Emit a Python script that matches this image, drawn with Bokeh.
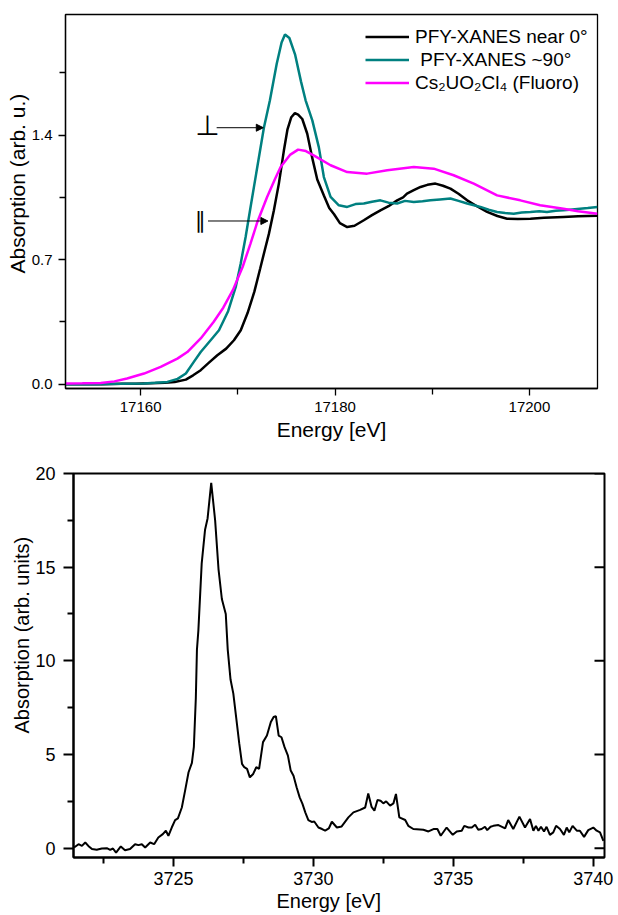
from math import pi
from bokeh.plotting import figure
from bokeh.layouts import column
from bokeh.models import (FixedTicker, Legend, LegendItem, Arrow, Title,
                          NormalHead, Range1d, PrintfTickFormatter)
from bokeh.embed import file_html
from bokeh.resources import INLINE
from bokeh.core.properties import value

FONT = "Liberation Sans"
SYM_FONT = "DejaVu Sans"

# ---------------- top panel data ----------------
e_near0 = [17152.3, 17154.0, 17156.0, 17158.0, 17159.5, 17161.0, 17162.5, 17163.5,
           17164.65, 17165.4, 17166.18, 17167.0, 17167.89, 17168.8, 17169.6, 17170.3,
           17171.0, 17171.7, 17172.3, 17172.8, 17173.2, 17173.71, 17174.22, 17174.74,
           17175.1, 17175.5, 17175.87, 17176.2, 17176.63, 17177.14, 17177.66, 17178.17,
           17178.85, 17179.4, 17179.9, 17180.5, 17181.25, 17182.0, 17182.96, 17183.8,
           17184.67, 17185.5, 17186.39, 17187.0, 17187.4, 17188.1, 17188.8, 17189.5,
           17190.33, 17191.1, 17191.87, 17192.7, 17193.59, 17194.6, 17195.64, 17196.7,
           17197.7, 17198.8, 17200.1, 17201.5, 17203.5, 17205.0, 17207.0]
a_near0 = [0.0, 0.0, 0.0, 0.002, 0.003, 0.005, 0.008, 0.012,
           0.026, 0.05, 0.079, 0.12, 0.163, 0.20, 0.247, 0.303,
           0.40, 0.52, 0.65, 0.76, 0.846, 0.977, 1.127, 1.314,
           1.43, 1.50, 1.523, 1.515, 1.49, 1.407, 1.27, 1.15,
           1.06, 0.99, 0.955, 0.905, 0.883, 0.89, 0.921, 0.95,
           0.977, 1.0, 1.033, 1.05, 1.071, 1.09, 1.108, 1.12,
           1.127, 1.115, 1.099, 1.07, 1.033, 1.0, 0.968, 0.945,
           0.930, 0.928, 0.930, 0.935, 0.940, 0.943, 0.947]

e_90 = [17152.3, 17155.0, 17158.0, 17160.35, 17161.5, 17162.75, 17163.8, 17164.65,
        17165.4, 17166.18, 17167.2, 17168.06, 17169.0, 17169.8, 17170.3, 17170.8,
        17171.31, 17172.0, 17172.68, 17173.3, 17174.0, 17174.5, 17174.85, 17175.3,
        17175.9, 17176.5, 17176.97, 17177.66, 17178.33, 17178.85, 17179.54, 17180.39,
        17181.25, 17182.1, 17182.96, 17183.8, 17184.67, 17185.5, 17186.39, 17187.2,
        17188.1, 17189.0, 17189.82, 17190.8, 17191.87, 17192.7, 17193.59, 17194.3,
        17194.95, 17195.8, 17196.67, 17197.5, 17198.38, 17199.2, 17200.1, 17201.0,
        17201.8, 17202.7, 17203.5, 17204.4, 17205.2, 17206.0, 17207.0]
a_90 = [0.0, 0.0, 0.002, 0.004, 0.008, 0.013, 0.03, 0.060,
        0.12, 0.181, 0.247, 0.303, 0.41, 0.55, 0.68, 0.827,
        0.996, 1.22, 1.441, 1.595, 1.80, 1.92, 1.965, 1.945,
        1.85, 1.70, 1.595, 1.482, 1.332, 1.164, 1.052, 1.005,
        0.996, 1.012, 1.015, 1.025, 1.033, 1.02, 1.015, 1.03,
        1.024, 1.028, 1.033, 1.038, 1.043, 1.03, 1.015, 1.005,
        0.996, 0.98, 0.968, 0.962, 0.958, 0.965, 0.968, 0.972,
        0.968, 0.975, 0.977, 0.982, 0.986, 0.99, 0.996]

e_ref = [17152.3, 17154.0, 17155.9, 17157.3, 17158.6, 17160.35, 17162.06, 17163.78,
         17164.8, 17166.18, 17167.5, 17168.5, 17169.5, 17170.5, 17171.3, 17172.0,
         17173.0, 17173.8, 17174.4, 17175.4, 17176.2, 17177.0, 17177.8, 17179.54,
         17181.25, 17183.3, 17185.37, 17188.1, 17190.15, 17192.2, 17194.27, 17196.67,
         17199.06, 17201.1, 17203.5, 17205.0, 17207.0]
a_ref = [0.004, 0.005, 0.007, 0.016, 0.032, 0.060, 0.097, 0.144,
         0.181, 0.257, 0.35, 0.43, 0.53, 0.66, 0.79, 0.91,
         1.05, 1.15, 1.22, 1.29, 1.318, 1.31, 1.286, 1.230,
         1.192, 1.183, 1.202, 1.220, 1.211, 1.174, 1.127, 1.061,
         1.033, 1.005, 0.986, 0.972, 0.958]

legend_labels = ["PFY-XANES near 0°", " PFY-XANES ~90°", "Cs₂UO₂Cl₄ (Fluoro)"]
top_xticks = [17160, 17180, 17200]
top_xminor = [17170, 17190]
top_yticks = [0.0, 0.7, 1.4]
top_yminor = [0.35, 1.05, 1.75]

# annotation positions (data units)
perp_pos = (17166.86, 1.4526)
perp_arrow = (17167.82, 17172.62, 1.441)
par_pos = (17166.12, 0.921)
par_arrow = (17166.93, 17173.09, 0.917)

# ---------------- bottom panel data ----------------
e_m = [3721.45, 3721.61, 3721.73, 3721.85, 3721.96, 3722.09, 3722.26, 3722.44, 3722.62,
       3722.74, 3722.84, 3722.95, 3723.12, 3723.27, 3723.45, 3723.63, 3723.75, 3723.87,
       3723.99, 3724.17, 3724.31, 3724.46, 3724.62, 3724.73, 3724.82, 3724.94, 3725.06,
       3725.16, 3725.3, 3725.42, 3725.54, 3725.66, 3725.73, 3725.80, 3725.84, 3725.89,
       3726.01, 3726.13, 3726.22, 3726.35, 3726.49, 3726.61, 3726.73, 3726.87, 3726.94,
       3727.04, 3727.14, 3727.24, 3727.35, 3727.45, 3727.53, 3727.63, 3727.73, 3727.85,
       3727.96, 3728.06, 3728.2, 3728.34, 3728.48, 3728.58, 3728.66, 3728.76, 3728.86,
       3728.97, 3729.09, 3729.19, 3729.29, 3729.4, 3729.51, 3729.61, 3729.71, 3729.82,
       3729.94, 3730.03, 3730.18, 3730.31, 3730.42, 3730.55, 3730.66, 3730.84, 3731.01,
       3731.25, 3731.43, 3731.67, 3731.85, 3731.96, 3732.08, 3732.18, 3732.29, 3732.4,
       3732.5, 3732.6, 3732.74, 3732.86, 3732.95, 3733.07, 3733.28, 3733.39, 3733.57,
       3733.93, 3734.11, 3734.29, 3734.43, 3734.55, 3734.76, 3734.98, 3735.12, 3735.3,
       3735.39, 3735.54, 3735.66, 3735.78, 3735.89, 3736.01, 3736.13, 3736.21, 3736.33,
       3736.43, 3736.61, 3736.85, 3736.96, 3737.14, 3737.36, 3737.56, 3737.74, 3737.86,
       3737.95, 3738.04, 3738.13, 3738.24, 3738.33, 3738.45, 3738.57, 3738.67, 3738.81,
       3738.95, 3739.05, 3739.14, 3739.26, 3739.41, 3739.52, 3739.67, 3739.82, 3740.0,
       3740.12, 3740.24, 3740.36]
a_m = [0.03, 0.21, 0.12, 0.30, 0.12, -0.05, -0.09, -0.02, 0.0,
       -0.09, -0.02, -0.24, 0.09, -0.11, -0.05, 0.21, 0.16, 0.21,
       0.03, 0.30, 0.21, 0.57, 0.75, 0.93, 0.66, 1.10, 1.50,
       1.59, 2.17, 3.1, 4.05, 4.55, 5.4, 8.0, 10.6, 11.6,
       15.2, 17.0, 17.6, 19.5, 17.5, 14.9, 13.3, 12.5, 10.6,
       9.0, 8.25, 7.0, 5.6, 4.5, 4.32, 4.23, 3.78, 3.96,
       4.32, 4.23, 5.66, 6.01, 6.73, 7.0, 7.05, 6.01, 5.92,
       5.39, 4.94, 4.14, 3.87, 3.25, 2.71, 2.36, 1.91, 1.5,
       1.40, 1.42, 1.10, 1.02, 0.93, 1.05, 1.41, 1.10, 1.16,
       1.64, 1.91, 2.04, 2.17, 2.92, 2.2, 2.0, 2.57, 2.53,
       2.39, 2.5, 2.27, 2.39, 2.89, 1.64, 1.50, 1.19, 1.02,
       0.98, 0.89, 1.02, 1.02, 0.66, 1.10, 0.71, 0.89, 0.93,
       1.19, 1.10, 1.10, 1.25, 0.98, 1.02, 1.14, 0.96, 1.14,
       1.19, 1.23, 1.05, 1.50, 1.02, 1.68, 1.10, 1.55, 0.93,
       1.19, 0.93, 1.14, 0.89, 1.14, 0.71, 0.84, 1.19, 1.02,
       0.71, 1.10, 0.84, 1.19, 0.93, 0.93, 0.60, 0.96, 1.10,
       0.93, 0.84, 0.39]
bot_xticks = [3725, 3730, 3735, 3740]
bot_xminor = [3722.5, 3727.5, 3732.5, 3737.5]
bot_yticks = [0, 5, 10, 15, 20]
bot_yminor = [2.5, 7.5, 12.5, 17.5]
bot_xrange = (3721.43, 3740.4)


def style_axis(ax, size, lw, tout, mout, standoff, label=None, label_size=None,
               label_standoff=0):
    ax.axis_line_color = "black"
    ax.axis_line_width = lw
    ax.major_tick_line_color = "black"
    ax.major_tick_line_width = lw
    ax.minor_tick_line_color = "black"
    ax.minor_tick_line_width = lw
    ax.major_tick_in = 0
    ax.major_tick_out = tout
    ax.minor_tick_in = 0
    ax.minor_tick_out = mout
    ax.major_label_text_font = FONT
    ax.major_label_text_font_size = size
    ax.major_label_text_color = "black"
    ax.major_label_standoff = standoff
    if label is not None:
        ax.axis_label = label
        ax.axis_label_text_font = FONT
        ax.axis_label_text_font_size = label_size
        ax.axis_label_text_font_style = "normal"
        ax.axis_label_text_color = "black"
        ax.axis_label_standoff = label_standoff


def side_title(p, text, side, size, offset):
    # axis title anchored at the start of the frame edge, shifted by `offset` px
    p.add_layout(Title(text=text, align="left", offset=offset, standoff=0,
                       text_font=FONT, text_font_size=size, text_font_style="normal",
                       text_color="black"), side)


# ================= top figure =================
top = figure(width=618, height=445, output_backend="svg", toolbar_location=None,
             x_range=Range1d(17152.27, 17207.0), y_range=Range1d(-0.024, 2.077),
             min_border_left=65, min_border_right=21, min_border_top=14,
             min_border_bottom=57, frame_align=False)
top.grid.visible = False
top.outline_line_color = "black"
top.outline_line_width = 1.3
top.background_fill_color = "white"
top.border_fill_color = "white"

style_axis(top.xaxis[0], "15px", 1.3, 7, 6, 6, "Energy [eV]", "21px", 3)
style_axis(top.yaxis[0], "15px", 1.3, 7, 6, 6)
top.xaxis[0].ticker = FixedTicker(ticks=top_xticks, minor_ticks=top_xminor)
top.yaxis[0].ticker = FixedTicker(ticks=top_yticks, minor_ticks=top_yminor)
top.yaxis[0].formatter = PrintfTickFormatter(format="%.1f")
side_title(top, "Absorption (arb. u.)", "left", "21px", 115)

r_near0 = top.line(e_near0, a_near0, line_color="black", line_width=2.5)
r_90 = top.line(e_90, a_90, line_color="#008080", line_width=2.5)
r_ref = top.line(e_ref, a_ref, line_color="#ff00ff", line_width=2.5)

leg = Legend(items=[LegendItem(label=legend_labels[0], renderers=[r_near0]),
                    LegendItem(label=legend_labels[1], renderers=[r_90]),
                    LegendItem(label=legend_labels[2], renderers=[r_ref])],
             location=(300, 294), padding=0, spacing=0, margin=0,
             glyph_width=44, glyph_height=23, label_height=23, label_standoff=6,
             border_line_color=None, background_fill_alpha=0,
             label_text_font=FONT, label_text_font_size="19px",
             label_text_color="black")
top.add_layout(leg)

top.text(x=[perp_pos[0]], y=[perp_pos[1]], text=["⊥"], text_font=value(SYM_FONT),
         text_font_size="28px", text_align="center", text_baseline="middle",
         text_color="black")
top.text(x=[par_pos[0]], y=[par_pos[1]], text=["∥"], text_font=value(SYM_FONT),
         text_font_size="22px", text_align="center", text_baseline="middle",
         text_color="black")
for xs, xe, yy in (perp_arrow, par_arrow):
    top.add_layout(Arrow(end=NormalHead(size=7, fill_color="black", line_color="black",
                                        line_width=1),
                         x_start=xs, y_start=yy, x_end=xe, y_end=yy,
                         line_color="black", line_width=1))

# ================= bottom figure =================
bot = figure(width=618, height=468, output_backend="svg", toolbar_location=None,
             x_range=Range1d(*bot_xrange), y_range=Range1d(-0.5, 20.0),
             min_border_left=73, min_border_right=14, min_border_top=28,
             min_border_bottom=56, frame_align=False)
bot.grid.visible = False
bot.outline_line_color = "black"
bot.outline_line_width = 2
bot.background_fill_color = "white"
bot.border_fill_color = "white"

style_axis(bot.xaxis[0], "18px", 2, 9, 6, 5)
style_axis(bot.yaxis[0], "18px", 2, 10, 6, 8)
bot.xaxis[0].ticker = FixedTicker(ticks=bot_xticks, minor_ticks=bot_xminor)
bot.yaxis[0].ticker = FixedTicker(ticks=bot_yticks, minor_ticks=bot_yminor)
side_title(bot, "Absorption (arb. units)", "left", "20px", 124)
side_title(bot, "Energy [eV]", "below", "20px", 203)

# inward major ticks on the right frame edge
bot.ray(x=[bot_xrange[1]] * len(bot_yticks), y=bot_yticks, length=10,
        length_units="screen", angle=pi, line_color="black", line_width=2)

bot.line(e_m, a_m, line_color="black", line_width=2)

layout = column(top, bot, spacing=0)
open("out.html", "w").write(file_html(layout, INLINE))
